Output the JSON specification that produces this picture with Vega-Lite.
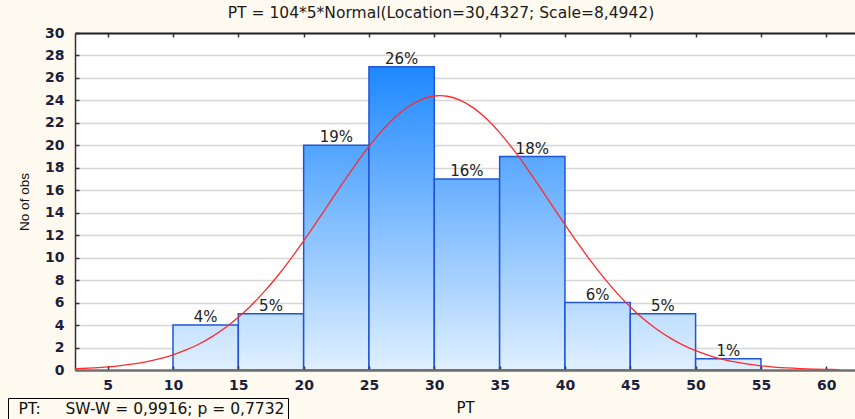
{
  "$schema": "https://vega.github.io/schema/vega-lite/v6.json",
  "width": 780,
  "height": 337,
  "autosize": "none",
  "padding": {"left": 75, "top": 33, "right": 0, "bottom": 49},
  "background": "#FFFAF0",
  "config": {"view": {"fill": "#FFFFFF", "stroke": null}, "font": "DejaVu Sans"},
  "title": {"text": "PT = 104*5*Normal(Location=30,4327; Scale=8,4942)", "font": "DejaVu Sans", "fontSize": 15.5, "fontWeight": "normal", "color": "#1a1a1a", "anchor": "middle", "dx": -24, "offset": -7, "baseline": "alphabetic"},
  "datasets": {
    "bins": [
      {"lower": 10, "upper": 15, "mid": 12.5, "count": 4, "label": "4%"},
      {"lower": 15, "upper": 20, "mid": 17.5, "count": 5, "label": "5%"},
      {"lower": 20, "upper": 25, "mid": 22.5, "count": 20, "label": "19%"},
      {"lower": 25, "upper": 30, "mid": 27.5, "count": 27, "label": "26%"},
      {"lower": 30, "upper": 35, "mid": 32.5, "count": 17, "label": "16%"},
      {"lower": 35, "upper": 40, "mid": 37.5, "count": 19, "label": "18%"},
      {"lower": 40, "upper": 45, "mid": 42.5, "count": 6, "label": "6%"},
      {"lower": 45, "upper": 50, "mid": 47.5, "count": 5, "label": "5%"},
      {"lower": 50, "upper": 55, "mid": 52.5, "count": 1, "label": "1%"}
    ],
    "curve": [
      {"x": 2.5, "y": 0.1096}, {"x": 3, "y": 0.1328}, {"x": 4, "y": 0.1928}, {"x": 5, "y": 0.2762},
      {"x": 6, "y": 0.3902}, {"x": 7, "y": 0.5436}, {"x": 8, "y": 0.7471}, {"x": 9, "y": 1.0123},
      {"x": 10, "y": 1.3533}, {"x": 11, "y": 1.7838}, {"x": 12, "y": 2.3183}, {"x": 13, "y": 2.973},
      {"x": 14, "y": 3.7591}, {"x": 15, "y": 4.6884}, {"x": 16, "y": 5.7664}, {"x": 17, "y": 6.9941},
      {"x": 18, "y": 8.3677}, {"x": 19, "y": 9.8724}, {"x": 20, "y": 11.4872}, {"x": 21, "y": 13.1829},
      {"x": 22, "y": 14.9203}, {"x": 23, "y": 16.6546}, {"x": 24, "y": 18.3339}, {"x": 25, "y": 19.9059},
      {"x": 26, "y": 21.3129}, {"x": 27, "y": 22.5076}, {"x": 28, "y": 23.4413}, {"x": 29, "y": 24.0778},
      {"x": 30, "y": 24.3909}, {"x": 30.4327, "y": 24.4226}, {"x": 31, "y": 24.3682}, {"x": 32, "y": 24.0104},
      {"x": 33, "y": 23.3321}, {"x": 34, "y": 22.3612}, {"x": 35, "y": 21.1354}, {"x": 36, "y": 19.7021},
      {"x": 37, "y": 18.113}, {"x": 38, "y": 16.4232}, {"x": 39, "y": 14.6856}, {"x": 40, "y": 12.9513},
      {"x": 41, "y": 11.2647}, {"x": 42, "y": 9.6624}, {"x": 43, "y": 8.1743}, {"x": 44, "y": 6.8205},
      {"x": 45, "y": 5.6116}, {"x": 46, "y": 4.5543}, {"x": 47, "y": 3.6453}, {"x": 48, "y": 2.8775},
      {"x": 49, "y": 2.2401}, {"x": 50, "y": 1.7197}, {"x": 51, "y": 1.3025}, {"x": 52, "y": 0.9727},
      {"x": 53, "y": 0.7163}, {"x": 54, "y": 0.5203}, {"x": 55, "y": 0.3726}, {"x": 56, "y": 0.2634},
      {"x": 57, "y": 0.1835}, {"x": 58, "y": 0.1261}, {"x": 59, "y": 0.0855}, {"x": 60, "y": 0.0571},
      {"x": 61, "y": 0.0377}
    ]
  },
  "layer": [
    {
      "data": {"name": "bins"},
      "mark": {"type": "bar", "stroke": "#1F55D6", "strokeWidth": 1.5},
      "encoding": {
        "x": {"field": "lower", "type": "quantitative",
          "scale": {"domain": [2.5, 62.2], "nice": false, "zero": false},
          "axis": {"orient": "bottom", "values": [5, 10, 15, 20, 25, 30, 35, 40, 45, 50, 55, 60], "title": "PT",
            "titleFont": "DejaVu Sans", "titleFontSize": 15, "titleFontWeight": "normal", "titleColor": "#111111", "titlePadding": 8,
            "labelFont": "DejaVu Sans", "labelFontSize": 14, "labelFontWeight": "bold", "labelColor": "#1B1F3B", "labelPadding": 12,
            "labelFlush": false, "labelOverlap": false, "tickSize": -4, "tickColor": "#333333", "tickWidth": 1.5,
            "domainColor": "#707070", "domainWidth": 2.5, "grid": false, "zindex": 1}},
        "x2": {"field": "upper"},
        "y": {"field": "count", "type": "quantitative",
          "scale": {"domain": [0, 30], "nice": false},
          "axis": {"orient": "left", "values": [0, 2, 4, 6, 8, 10, 12, 14, 16, 18, 20, 22, 24, 26, 28, 30], "title": "No of obs",
            "titleFont": "Liberation Sans", "titleFontSize": 13.5, "titleFontWeight": "normal", "titleColor": "#111111", "titlePadding": 13,
            "labelFont": "DejaVu Sans", "labelFontSize": 14, "labelFontWeight": "bold", "labelColor": "#1B1F3B", "labelPadding": 15,
            "labelFlush": false, "labelOverlap": false, "tickSize": -4, "tickColor": "#333333", "tickWidth": 1.5,
            "domainColor": "#333333", "domainWidth": 1.5, "grid": true, "gridColor": "#D6D6D6", "gridWidth": 1.5}},
        "y2": {"datum": 0},
        "fill": {
          "condition": [
            {"test": "datum.count == 27", "value": {"gradient": "linear", "x1": 0, "y1": 0, "x2": 0, "y2": 1, "stops": [{"offset": 0, "color": "#1E88FF"}, {"offset": 1, "color": "#E0F0FF"}]}},
            {"test": "datum.count == 20", "value": {"gradient": "linear", "x1": 0, "y1": 0, "x2": 0, "y2": 1, "stops": [{"offset": 0, "color": "#51A4FF"}, {"offset": 1, "color": "#E0F0FF"}]}},
            {"test": "datum.count == 19", "value": {"gradient": "linear", "x1": 0, "y1": 0, "x2": 0, "y2": 1, "stops": [{"offset": 0, "color": "#59A7FF"}, {"offset": 1, "color": "#E0F0FF"}]}},
            {"test": "datum.count == 17", "value": {"gradient": "linear", "x1": 0, "y1": 0, "x2": 0, "y2": 1, "stops": [{"offset": 0, "color": "#67AFFF"}, {"offset": 1, "color": "#E0F0FF"}]}},
            {"test": "datum.count == 6", "value": {"gradient": "linear", "x1": 0, "y1": 0, "x2": 0, "y2": 1, "stops": [{"offset": 0, "color": "#B8DAFF"}, {"offset": 1, "color": "#E0F0FF"}]}},
            {"test": "datum.count == 5", "value": {"gradient": "linear", "x1": 0, "y1": 0, "x2": 0, "y2": 1, "stops": [{"offset": 0, "color": "#BFDEFF"}, {"offset": 1, "color": "#E0F0FF"}]}},
            {"test": "datum.count == 4", "value": {"gradient": "linear", "x1": 0, "y1": 0, "x2": 0, "y2": 1, "stops": [{"offset": 0, "color": "#C7E2FF"}, {"offset": 1, "color": "#E0F0FF"}]}}
          ],
          "value": {"gradient": "linear", "x1": 0, "y1": 0, "x2": 0, "y2": 1, "stops": [{"offset": 0, "color": "#D9ECFF"}, {"offset": 1, "color": "#E0F0FF"}]}
        }
      }
    },
    {
      "data": {"name": "bins"},
      "mark": {"type": "text", "dy": -3, "baseline": "alphabetic", "font": "DejaVu Sans", "fontSize": 15, "color": "#222222"},
      "encoding": {
        "x": {"field": "mid", "type": "quantitative", "axis": null},
        "y": {"field": "count", "type": "quantitative", "axis": null},
        "text": {"field": "label"}
      }
    },
    {
      "data": {"name": "curve"},
      "mark": {"type": "line", "strokeWidth": 1.3, "interpolate": "monotone"},
      "encoding": {
        "x": {"field": "x", "type": "quantitative",
          "axis": {"orient": "top", "values": [5, 10, 15, 20, 25, 30, 35, 40, 45, 50, 55, 60], "labels": false, "title": null,
            "tickSize": -4, "tickColor": "#333333", "tickWidth": 1.5, "domainColor": "#222222", "domainWidth": 2, "grid": false, "zindex": 1,
            "minExtent": 0, "maxExtent": 0}},
        "y": {"field": "y", "type": "quantitative", "axis": null},
        "stroke": {"datum": "PT:\u00a0\u00a0\u00a0\u00a0\u00a0SW-W = 0,9916; p = 0,7732", "type": "nominal",
          "scale": {"range": ["#FF2A2A"]},
          "legend": {"orient": "none", "legendX": -67, "legendY": 365, "title": null, "strokeColor": "#000000", "padding": 3,
            "labelFont": "DejaVu Sans", "labelFontSize": 15.5, "labelColor": "#111111", "labelOffset": -8, "labelLimit": 0,
            "symbolSize": 0, "symbolStrokeWidth": 0, "symbolOpacity": 0, "symbolType": "circle"}}
      }
    }
  ],
  "resolve": {"axis": {"x": "independent", "y": "independent"}}
}
